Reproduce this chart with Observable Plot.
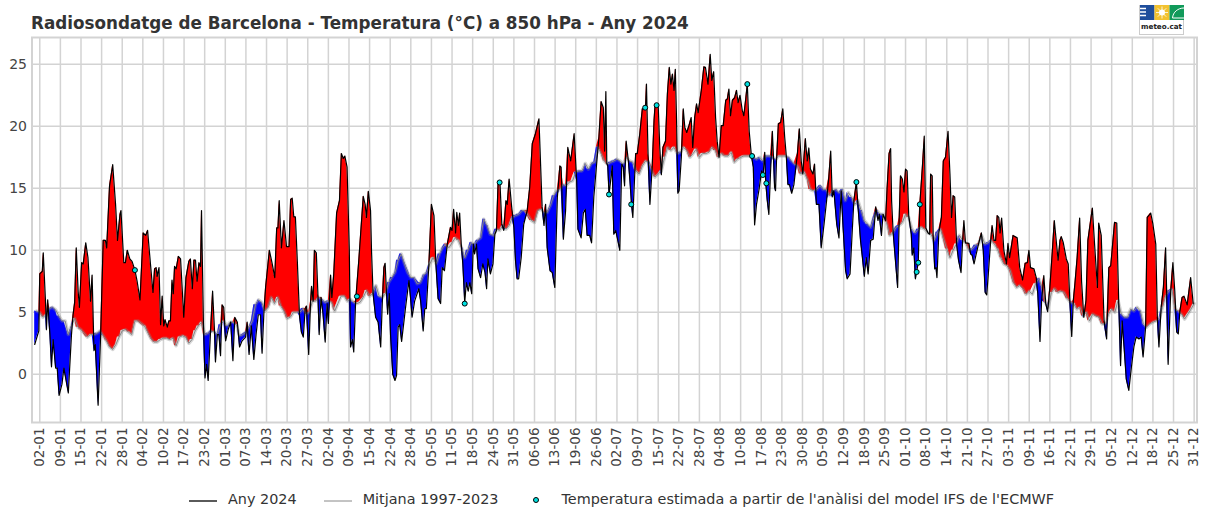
<!DOCTYPE html>
<html lang="ca">
<head>
<meta charset="utf-8">
<script src="https://cdn.jsdelivr.net/npm/d3@7"></script>
<script src="https://cdn.jsdelivr.net/npm/@observablehq/plot@0.6"></script>
<style>
html,body{margin:0;padding:0;background:#fff;overflow:hidden}
body{width:1205px;height:508px;position:relative;font-family:"DejaVu Sans",sans-serif;color:#333}
#title{height:30px;box-sizing:border-box;padding:13px 0 0 31px;font-size:16.77px;font-weight:bold;line-height:20px;color:#333;white-space:nowrap}
#chart svg{display:block;font-family:"DejaVu Sans",sans-serif}
#legend{display:flex;align-items:center;height:38px;padding:20px 0 0 189px;font-size:14.4px;color:#333;white-space:nowrap;box-sizing:border-box}
#legend .sw{display:inline-block;width:28px;margin-right:11px}
#logo{position:absolute;left:1139px;top:5px;width:45px;height:30px;border:1px solid #ccc;box-sizing:border-box;background:#fff;text-align:center;font-size:7.2px;font-weight:bold;color:#222;line-height:13px;border-top:none}
#logo svg{display:block}
</style>
</head>
<body>
<div id="title">Radiosondatge de Barcelona - Temperatura (°C) a 850 hPa - Any 2024</div>
<div id="logo"><svg width="44" height="15"><rect width="14.5" height="15" fill="#1f4e9c"/><rect x="14.5" width="15" height="15" fill="#f2c230"/><rect x="29.5" width="14.5" height="15" fill="#119a5a"/><path d="M0 3.5H6M0 7H6M0 10.5H6" stroke="#fff" stroke-width="1.4"/><circle cx="22" cy="7.5" r="3" fill="#fff"/><path d="M22 1.5V13.5M16 7.5H28M17.8 3.3L26.2 11.7M26.2 3.3L17.8 11.7" stroke="#fff" stroke-width=".8"/><path d="M44 3C38 3 33 7 32.5 13H44" fill="none" stroke="#fff" stroke-width="1"/></svg>meteo.cat</div>
<div id="chart"></div>
<div id="legend">
<span class="sw"><svg width="28" height="6"><line x1="0" x2="28" y1="3" y2="3" stroke="#000" stroke-width="1.3"/></svg></span><span style="margin-right:27px">Any 2024</span>
<span class="sw"><svg width="28" height="6"><line x1="0" x2="28" y1="3" y2="3" stroke="#888" stroke-width="1"/></svg></span><span style="margin-right:33px">Mitjana 1997-2023</span>
<span style="display:inline-block;width:30px"><svg width="8" height="8"><circle cx="4" cy="4" r="2.5" fill="#00e0e0" stroke="#000" stroke-width="1"/></svg></span><span>Temperatura estimada a partir de l'anàlisi del model IFS de l'ECMWF</span>
</div>
<script>
const etiquetes = ["02-01","09-01","15-01","22-01","28-01","04-02","10-02","17-02","23-02","01-03","07-03","14-03","20-03","27-03","02-04","09-04","15-04","22-04","28-04","05-05","11-05","18-05","24-05","31-05","06-06","13-06","19-06","26-06","02-07","09-07","15-07","22-07","28-07","04-08","10-08","17-08","23-08","30-08","05-09","12-09","18-09","25-09","01-10","08-10","14-10","21-10","27-10","03-11","09-11","16-11","22-11","29-11","05-12","12-12","18-12","25-12","31-12"];

// Any 2024: day of each sounding vertex (0 = 1 January)
const dies = [
-0.6,.7,1,1.8,2.1,2.8,3.1,3.5,4.2,4.7,
5.2,6,6.5,7.1,8,8.6,10,11,11.5,12,
12.5,13.1,13.5,14.2,14.7,15.5,16.2,17,17.5,18.1,
18.5,19.4,20.2,21,21.7,22.1,23,24,24.9,25.5,
26.3,26.6,27.5,28,28.6,29.4,30.1,31,31.7,32.6,
33.6,34.4,35,35.9,36.7,37.2,37.7,38,38.6,39.1,
39.6,40.1,40.5,41.2,41.7,42.2,42.7,43.1,43.5,44,
44.7,45.4,46.4,47.1,48,48.5,49.1,49.6,50.1,50.6,
51.2,51.7,52,52.6,53.1,53.6,54.1,54.8,55.5,56.1,
56.4,57,57.5,58,58.5,59,59.6,60.4,61.2,61.9,
62.5,63.3,64,64.8,65.9,66.4,67,67.7,68.5,69.2,
69.9,70.6,71.1,71.7,72.2,73.4,74.3,75.1,75.7,76.1,
76.5,77.2,78,78.8,79.6,80.1,80.6,81.1,81.6,82.2,
82.9,83.5,84.1,84.7,85.1,85.8,86.4,86.7,87.2,87.6,
88.2,88.7,89.1,89.7,90.3,91,91.6,92,92.7,93.1,
93.7,94.6,95.5,96.1,96.7,97.2,97.9,98.6,99,99.6,
100,100.6,101.6,103,103.6,104,104.6,105.3,105.6,106.1,
106.9,107.7,108.5,109,109.5,109.9,110.3,110.7,111.2,111.6,
112.3,113,113.5,114,114.5,115.1,116.3,117.4,117.9,118.4,
119.2,120.5,121.1,121.9,122.4,122.9,123.7,124.5,125.3,125.9,
126.6,127.4,127.9,128.6,129.5,130.5,131,131.5,132.1,132.5,
133,133.4,133.9,134.4,135,135.5,136.1,136.6,137.2,137.7,
138.1,138.7,139.2,140,140.7,141.4,141.9,142.3,143.1,143.9,
144.5,145,145.5,146.1,146.7,147.3,148,148.4,149,149.8,
150.5,151,151.5,152,152.8,153.6,154.7,155.5,156.3,157.3,
158.4,159.4,160,160.5,161,161.9,162.6,163.4,164.2,165,
165.4,166.1,166.8,167.5,168.4,169.5,170.3,170.7,171.7,172.4,
173,173.6,174.4,175,175.7,176.5,177.3,178,178.7,179.1,
179.5,179.8,180.1,180.5,181,181.5,182,182.6,183.1,183.9,
184.5,185,185.4,185.9,186.6,187.1,187.6,188,188.6,188.9,
189.4,190.2,191,192,192.3,192.8,193.4,194.1,194.7,195,
196,196.5,197,197.5,198.3,198.9,199.5,200,200.5,201,
201.4,201.8,202.2,202.6,203.3,203.9,204.4,205,205.7,206.4,
206.9,207.5,208.1,208.6,209.6,210.4,210.9,211.7,212.4,212.9,
213.5,214.1,214.6,215.2,215.9,216.5,217.3,217.8,218.3,218.8,
219.4,220.1,220.7,221.2,221.8,222.5,223,223.6,224.1,224.7,
225.4,226,226.4,227,227.8,228.6,229.1,229.6,229.9,230.4,
230.9,231.4,232,232.4,232.7,233,233.3,233.9,234.6,235.3,
235.9,236.4,236.9,237.4,238.1,238.8,239.9,240.5,241.1,241.6,
242.4,243,243.5,244,244.8,245.3,245.9,246.7,247.4,248.3,
249.1,249.8,250.4,250.9,251.4,252.3,253,253.7,254.3,255.1,
255.6,256.5,257.2,257.7,258.5,259.1,259.8,260.4,261,261.6,
262.2,263,263.8,264.6,265.3,265.7,266.4,266.9,267.7,268.2,
268.8,269.3,269.6,270.1,270.8,271.5,272,272.4,273,273.5,
274,274.5,275,275.8,276.1,276.6,277.1,277.5,278,278.5,
279.3,279.9,280.4,281.1,281.6,281.9,282.4,282.7,283.2,283.6,
283.9,284.5,285.3,285.9,286.6,287.4,288,288.5,289,289.5,
290.1,290.7,291.5,292,292.4,292.9,294,294.5,295,295.6,
296.2,297.1,297.9,298.5,299.1,299.6,300.1,300.8,301.3,301.9,
302.4,302.9,303.4,303.8,304.3,305,305.8,306.3,306.8,307.9,
309.2,310,310.9,311.7,312.4,312.9,313.4,314.5,315.2,315.7,
316.4,316.9,317.6,318.2,318.8,319.5,320.3,320.9,321.5,322.1,
322.7,323.1,323.7,324.7,325.3,325.8,326.4,326.9,327.4,328.1,
328.9,329.5,330.2,330.9,331.5,332.9,333.6,334.5,334.9,335.7,
336.6,337.4,338.1,338.7,339.9,340.6,341.2,341.8,342.3,342.9,
343.6,344.4,345.2,346,346.7,347.6,348.3,348.9,349.7,350.2,
351.3,352,352.9,353.4,353.9,354.6,355.3,356,356.3,356.8,
357.6,358.3,358.9,359.5,360,360.5,361.2,361.8,362.8,363.9,
364.7];

// Any 2024: temperature at each of those vertices (°C)
const temperatura = [
2.4,3.5,8.1,8.3,9.8,5.9,3.6,6,3.2,.6,
2.8,.5,.5,-1.7,-.8,.5,-1.5,3.2,4.8,5.8,
10.2,6.7,5.4,9,8.9,10.6,9.4,5.9,8,1.9,
2.4,-2.5,3.2,10.8,10.8,10.2,15.2,16.9,13.7,10.8,
12.9,13.2,9,9,10,9.3,9.1,8.4,7.5,6,
11.4,11.2,11.6,8.9,6.6,8.5,8.6,7.9,8.6,4,
6.3,3.9,4.4,3.8,4.3,4.3,7.6,6.5,8.7,8.5,
9.5,9.3,4.6,7.8,9.1,9.3,6.9,9.2,9.2,7.5,
9,8.7,13.2,4.2,-.3,.8,-.5,3.2,6.7,3.5,
1,3.2,3.2,1.5,5.6,5.4,2.7,3.6,4.2,1.1,
4.6,4.2,2.2,2.7,3,4.2,1.6,3.9,1.2,3.2,
4.8,4.8,1.7,5.1,7,10,8.9,7.8,11.8,11.8,
14,10.2,12.4,10.3,10.3,14.1,14.2,12.7,12.7,9.2,
4.7,3.4,3,5.3,5.5,1.6,5.9,7.1,5.9,10,
9.8,6.5,3.2,6.2,4.9,2.6,5.7,4.1,8,6.2,
8.1,13,14,17.8,17.4,17.6,16.7,10,2.2,2.8,
1.8,5.9,9.2,14.35,13.7,12.65,14.75,13.2,10,6.5,
4.6,4.2,2.2,5.7,8.6,8.95,6.7,4.85,6.5,3.2,
0,-.5,-.1,3.8,4,2.65,5.3,7.55,6.2,4.6,
5.9,6.9,5.9,3.5,5.3,5.3,8.9,13.7,12.8,8.9,
6.1,5.7,8.6,8.35,10.5,11.85,11.6,13.3,11.4,13.05,
12,13,10.5,8.9,5.8,7.4,6.7,7.4,6.5,10.5,
9.7,10.5,8.5,7.8,8.9,8.2,6.9,9.3,8.1,8.9,
11.3,11.6,15.3,15.5,12.1,11.6,14,13.7,15.75,13.5,
11.85,9.2,7.7,7.7,9.4,12.1,13.2,15.1,18.6,19.4,
20.6,13.5,12,13.7,10.2,8.35,8.2,7,14.25,16.8,
16.7,10.9,13.2,18.3,17.2,19.4,15.6,11.7,11,13,
13.3,11.2,11.2,10.6,14.3,16.7,19.1,22,21.5,18,
22.8,17,16.8,14.5,15.6,16.8,11.3,11.6,11,10,
16.95,16.7,15.2,18.8,17.2,15.6,13.7,12.65,16.1,17.8,
17.8,19.4,21.4,21.5,23.4,17.8,13.7,16.7,20.5,21.65,
21.7,18.3,16.1,18.3,18.8,22.6,24.75,23.4,24.2,22.9,
24.6,20.45,14.6,14.8,17.5,21.4,19.9,19.5,20.05,20.7,
18.3,20.7,21.8,21.1,22.9,24.8,24.75,23.4,25.8,23.7,
24.4,20.7,18.8,17.5,20.05,20.05,22.1,22.2,23,20.85,
22.1,22.3,22.9,21.9,22.5,21.3,20.85,22.2,23.4,19.6,
17.6,16.7,12.05,13.7,14.9,16.4,16.1,17.9,15.5,14,
12.9,16.15,19.6,17.2,15.1,14.8,17.2,20.2,20.3,21.4,
19.1,17.6,15.3,15.3,14.6,15.3,17.8,19.8,17.2,16.15,
19,17.2,18.25,16.55,16.15,16.95,13.7,13.7,10.2,12.1,
14,15.9,18,14.3,14.8,12.1,11,14.8,11.85,8.35,
7.7,8.1,11.6,14,15.5,13.2,10.8,9.4,7.9,9.4,
8.1,10.8,10.9,13.5,12.4,12.9,11.2,12.9,12.4,15.1,
17.8,18.2,14,11.4,9.2,7,12.65,16,15.75,14.7,
16.55,16.4,12.8,11.3,9.6,10.2,7.7,8.25,9,13.7,
16.7,19.2,11.8,11.4,11.3,16.15,16,11.3,8.5,8.6,
7.8,11.45,12.65,17.2,17.5,19.6,16.15,12.65,14.4,14.3,
10.5,9.2,8.2,10.8,12.4,10.6,10.55,9.7,9.6,8.9,
9.6,10.6,11.4,10,6.6,6.4,8.1,10.6,12,10.8,
10.8,12.8,12.65,11.4,12.6,10,8.9,10.55,9.4,11.2,
11,8.6,7.6,8.95,9,10,8.6,8.5,7.8,6.5,
2.65,5.95,7.95,5.7,5.05,7,10,12.4,10.8,9.2,
10.8,11.1,10.65,9.3,8.9,5.95,3.05,5.95,7.3,9.4,
12.6,7.5,4.6,5.95,10.8,13.4,10.5,7,12.2,11.2,
4.3,2.85,8.6,8.75,12.25,12.2,5.95,.7,4.3,2.2,
-.4,-1.3,.55,2.2,3,2.85,3,1.4,3.8,12.65,
13,12.1,10.5,4.6,2.2,5.4,7,10.2,7,.8,
6.7,9,6.7,3.4,3.25,5.1,6.2,6.3,5.6,7.8,
5.7];

// Mitjana 1997-2023: one value per day of the year (°C)
const mitjana = [
5.1,5,4.6,4.8,5.3,5.4,5.2,4.7,4.3,4.3,3.2,3.9,4.5,3.8,3.6,3.3,3,3.2,3.2,3.3,
3.5,3.1,2.7,2.2,2,2.4,3,3.5,3.6,3.4,3.2,4.3,4.3,4.1,3.9,3.4,2.9,2.6,2.6,2.8,
2.9,2.9,2.8,2.9,2.3,3,3.1,3,2.5,2.8,3.5,3.9,4.2,3.2,3.3,3.5,3.4,3.2,4,4.3,
3.9,4.2,4.2,4,3.1,3.2,3.4,3.8,4.3,5.6,6,5.8,5.1,5.4,6.2,5.7,6.2,5.5,5.1,4.5,
4.6,5,5,5,5.3,4.85,5,5.9,5.9,6.2,6,5.8,5.9,5.8,5.1,5.7,6.3,6.3,5.9,6.05,
5.8,5.7,5.8,6.2,6.75,6.3,6.5,7.15,6.3,6.2,6.5,7.4,7.8,8.2,9.2,9.7,8.9,8.2,7.8,7.8,
7.3,7.4,8,8.2,8.9,9.4,8.9,9.7,10.2,10.5,10.2,10.6,11,10.8,10.2,9.4,10,10.6,10.5,10.8,
11,12.5,12,11.3,11.2,11.7,11.6,12,11.7,12,12.65,12.8,12.9,13.2,13.2,12.8,12.4,12.25,13.2,13.3,
13.05,13.05,13.6,14.4,14.8,14.9,15.3,15.2,15.5,15.6,16.3,16.4,16.4,17,16.55,17,17.1,18.3,17.8,17.2,
16.95,17.1,17.2,17.35,17.2,16.95,17.5,17.2,17.1,16.4,16.15,16.8,17.2,17.1,16.4,15.9,16.15,16.4,17.5,18.3,
18.05,18.3,17.8,17.9,18.3,18.05,17.5,17.8,18.15,17.5,17.8,17.8,17.9,18.3,18.05,17.5,17.8,17.6,17.6,17.9,
17.1,17.35,17.5,17.6,17.6,17.6,17.5,17.35,17.5,17.2,17.6,17.6,17.5,17.35,17.6,17.6,17.6,17.5,17.2,16.95,
16.8,16.15,16.3,15.75,14.9,14.8,14.9,15.2,14.9,14.9,14.4,14.8,14.9,14.65,14.9,14,14.65,14.25,13.7,14,
13.2,12.4,12.1,11.85,12.65,13.2,12.9,12.9,12.25,11.2,11.4,11.85,12,12.25,12.9,12.65,11.7,11.4,11.7,11.85,
11.7,11.4,11.3,10.8,11.45,11.7,10.9,10.1,9.4,10,10.5,11.2,10.8,10.6,10,10.1,10.4,10.5,11.2,10.5,
10.6,10.8,10.5,10.1,9.4,8.9,8.75,8.35,7.4,7,7.15,6.9,6.45,6.7,6.45,7.3,7.7,7,5.8,5.4,
6.6,6.9,6.6,6.7,6.6,6.1,5.8,5.7,5.25,5.4,4.7,5,4.3,4.85,4.7,4.6,4.05,4.05,4.85,5.25,
5,5.95,4.85,4.6,4.6,5.25,5.1,5.4,5.1,4.05,3.8,4.05,4.2,4.3,4.45,5.4,6.3,6.7,6.85,5.25,
5.1,4.85,4.45,4.85,5.25,5.7];

// Estimated soundings (IFS analysis)
const diesEstimats = [31,101,135,146,180.5,187.5,191.9,195.5,224.1,225.6,229,230.1,258.5,277.5,278,278.5];
const tempEstimats = [8.4,6.28,5.7,15.47,14.5,13.7,21.5,21.7,23.4,17.6,16.07,15.4,15.5,8.25,9,13.7];

const files = dies.map((dia, i) => {
  const m = mitjana[Math.max(0, Math.min(mitjana.length - 1, Math.round(dia)))];
  return {dia, t: temperatura[i], m};
});
const filesMitjana = mitjana.map((m, dia) => ({dia, m}));
const filesEstimats = diesEstimats.map((dia, i) => ({dia, t: tempEstimats[i]}));
const posicions = etiquetes.map((_, i) => 1 + 6.5 * i);

const grid = "#d3d3d3";
const plot = Plot.plot({
  width: 1205, height: 440,
  marginLeft: 31.5, marginRight: 8.5, marginTop: 7, marginBottom: 48,
  style: {background: "#fff", color: "#444", fontSize: "13px", fontFamily: "DejaVu Sans"},
  x: {domain: [-1.45, 365.9], label: null},
  y: {domain: [-3.89, 27.16], label: null},
  marks: [
    Plot.gridX(posicions, {stroke: grid, strokeWidth: 1.5, strokeOpacity: 1}),
    Plot.gridY([0,5,10,15,20,25], {stroke: grid, strokeWidth: 1.5, strokeOpacity: 1}),
    Plot.frame({stroke: grid, strokeWidth: 2}),
    Plot.axisX({ticks: posicions, tickSize: 0, tickPadding: 5, tickRotate: -90, tickFormat: (d) => etiquetes[Math.round((d - 1) / 6.5)], fontSize: 13.5, fill: "#444", label: null}),
    Plot.axisY({ticks: [0,5,10,15,20,25], tickSize: 0, tickPadding: 5, fontSize: 14, fill: "#444", label: null}),
    Plot.areaY(files, {x: "dia", y1: "m", y2: (d) => Math.max(d.t, d.m), fill: "red"}),
    Plot.areaY(files, {x: "dia", y1: (d) => Math.min(d.t, d.m), y2: "m", fill: "blue"}),
    Plot.lineY(filesMitjana, {x: "dia", y: "m", stroke: "#888", strokeWidth: 3.5, strokeOpacity: 0.35}),
    Plot.lineY(filesMitjana, {x: "dia", y: "m", stroke: "#888", strokeWidth: 1}),
    Plot.lineY(files, {x: "dia", y: "t", stroke: "#000", strokeWidth: 1.2}),
    Plot.dot(filesEstimats, {x: "dia", y: "t", r: 2.5, fill: "#00e0e0", stroke: "#000", strokeWidth: 1})
  ]
});
document.getElementById("chart").appendChild(plot);
</script>
</body>
</html>
